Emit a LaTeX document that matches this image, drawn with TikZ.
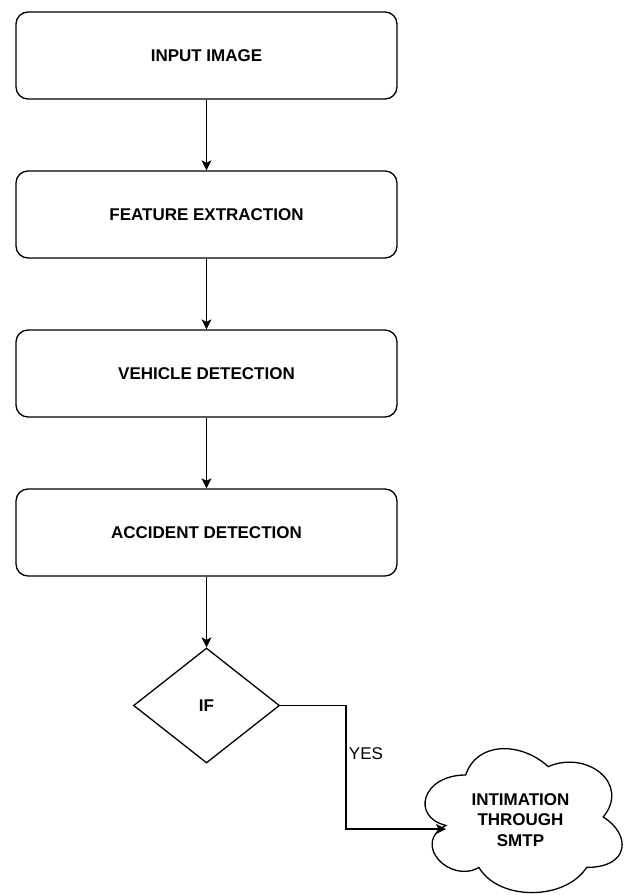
\documentclass[tikz,border=0pt]{standalone}
\usepackage{fontspec}
\setmainfont{Liberation Sans}
\usetikzlibrary{shapes.geometric,arrows.meta}
\begin{document}
\begin{tikzpicture}[x=1pt,y=-1pt,
  line width=1.3pt,
  stepbox/.style={draw,rounded corners=12pt,minimum width=381pt,minimum height=87pt,inner sep=0pt,font=\fontsize{17}{20}\selectfont\bfseries},
  decision/.style={draw,diamond,minimum width=146pt,minimum height=115pt,inner sep=0pt,font=\fontsize{17}{20}\selectfont\bfseries},
  flow/.style={-{Stealth[length=10pt,width=10pt,inset=2.5pt]}},
  lbl/.style={font=\fontsize{17}{20}\selectfont,inner sep=0pt}]
\useasboundingbox (0,0) rectangle (627,895);
\node[stepbox] (b1) at (206.5,55.5) {INPUT IMAGE};
\node[stepbox] (b2) at (206.5,214.5) {FEATURE EXTRACTION};
\node[stepbox] (b3) at (206.5,373.5) {VEHICLE DETECTION};
\node[stepbox] (b4) at (206.5,532.5) {ACCIDENT DETECTION};
\node[decision] (d) at (206.5,705.5) {IF};
% cloud
\begin{scope}[shift={(410.7pt,-733pt)},x=220pt,y=-168pt]
\draw (0.25,0.25) .. controls (0.05,0.25) and (0,0.5) .. (0.16,0.55)
  .. controls (0,0.66) and (0.18,0.9) .. (0.31,0.8)
  .. controls (0.4,1) and (0.7,1) .. (0.8,0.8)
  .. controls (1,0.8) and (1,0.6) .. (0.875,0.5)
  .. controls (1,0.3) and (0.8,0.1) .. (0.625,0.2)
  .. controls (0.5,0.05) and (0.3,0.05) .. (0.25,0.25) -- cycle;
\end{scope}
\node[align=center,inner sep=0pt,font=\fontsize{17}{20.5}\selectfont\bfseries] (cl) at (520.5,820) {INTIMATION\\THROUGH\\SMTP};
\coordinate (clin) at (446,829);
\coordinate (bend) at (346,705.5);
\draw[flow] (b1.south) -- (b2.north);
\draw[flow] (b2.south) -- (b3.north);
\draw[flow] (b3.south) -- (b4.north);
\draw[flow] (b4.south) -- (d.north);
\draw[flow] (d.east) -- (bend) |- (clin);
\node[lbl] (yes) at (366,754) {YES};
\end{tikzpicture}
\end{document}
